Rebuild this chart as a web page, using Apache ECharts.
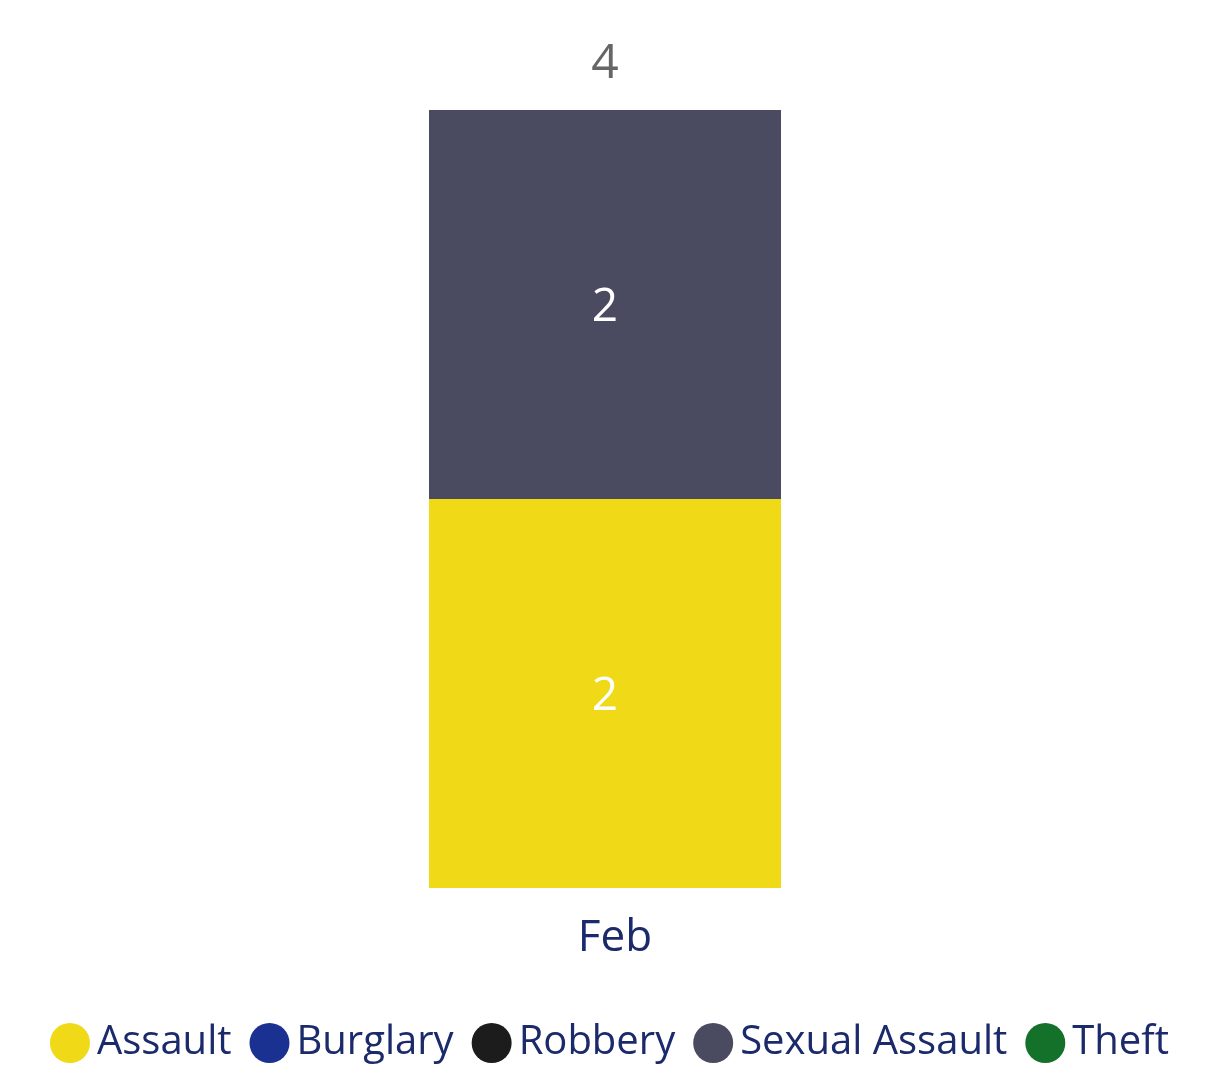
<!DOCTYPE html>
<html><head><meta charset="utf-8">
<script src="https://cdn.jsdelivr.net/npm/echarts@6/dist/echarts.min.js"></script>
<style>html,body{margin:0;padding:0;background:#fff;}#c{width:1219px;height:1068px;}</style>
</head><body><div id="c"></div>
<script>
const categories = ['Feb'];
const seriesNames = ['Assault', 'Burglary', 'Robbery', 'Sexual Assault', 'Theft'];
const assault = [2];
const burglary = [null];
const robbery = [null];
const sexualAssault = [2];
const theft = [null];
const colors = ['#F0D917', '#1A3192', '#1C1C1C', '#4A4A61', '#14712A'];

const values = [assault, burglary, robbery, sexualAssault, theft];
const totals = categories.map((_, i) => values.reduce((s, arr) => s + (arr[i] || 0), 0));
const FONT = 'Open Sans';

const series = seriesNames.map((name, k) => ({
  name, type: 'bar', stack: 'total', data: values[k], barWidth: 352,
  itemStyle: { color: colors[k] },
  label: { show: true, position: 'inside', color: '#fff', fontSize: 46, fontFamily: FONT,
           offset: [0, 3],
           formatter: p => (p.value ? p.value : '') }
}));
series.push({
  name: 'Total', type: 'bar', stack: 'total', data: totals.map(() => 0), barWidth: 352,
  itemStyle: { color: 'transparent' },
  label: { show: true, position: 'top', distance: 22, color: '#666666', fontSize: 48, fontFamily: FONT,
           formatter: p => totals[p.dataIndex] }
});

const chart = echarts.init(document.getElementById('c'));
chart.setOption({
  animation: false,
  color: colors,
  grid: { left: 0, right: 9, top: 110, bottom: 180 },
  xAxis: { type: 'category', data: categories,
    axisLine: { show: false }, axisTick: { show: false },
    axisLabel: { color: '#1B2A6B', fontSize: 44, fontFamily: FONT, margin: 28, padding: [0, 0, 0, 20] } },
  yAxis: { type: 'value', min: 0, max: 4, show: false, splitLine: { show: false } },
  legend: { data: seriesNames, bottom: 0, left: 'center', icon: 'circle',
    itemWidth: 40, itemHeight: 40, itemGap: 18,
    textStyle: { color: '#1B2A6B', fontSize: 40, fontFamily: FONT, padding: [4, 0, 0, 2] } },
  series
});
</script></body></html>
